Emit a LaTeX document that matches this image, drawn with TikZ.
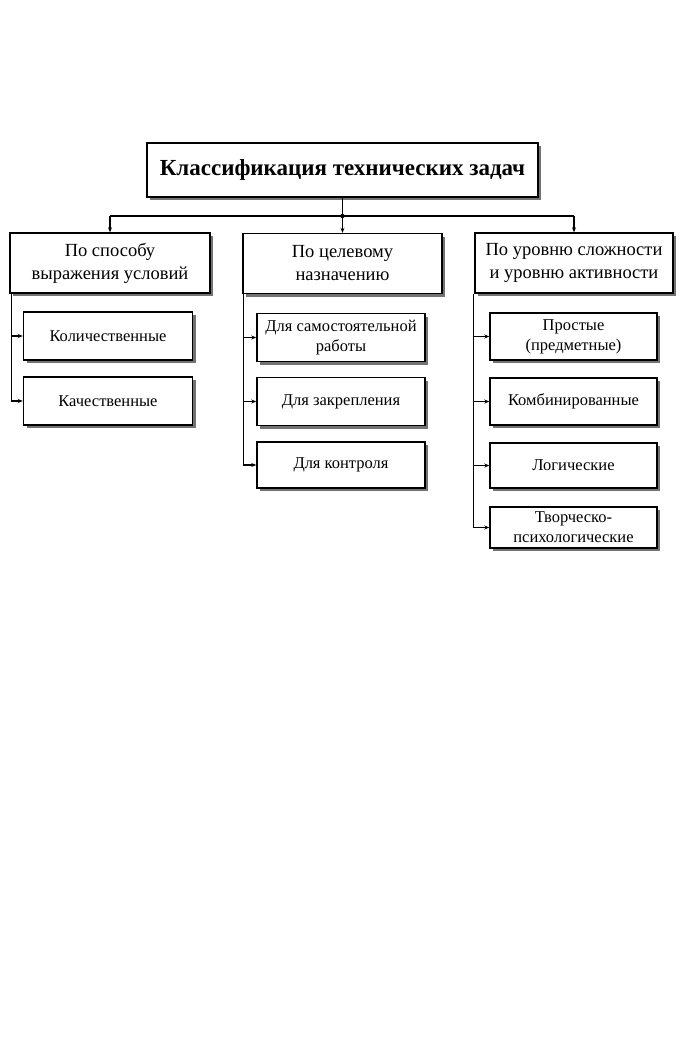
\documentclass[tikz,border=0pt]{standalone}
\usepackage{fontspec}
\setmainfont{Liberation Serif}
\usetikzlibrary{arrows.meta,shadows}
\begin{document}
\begin{tikzpicture}[x=1pt,y=-1pt,
  box/.style={draw=black,line width=1.4pt,fill=white,rectangle,inner sep=1pt,align=center,
    drop shadow={shadow xshift=3pt,shadow yshift=-3pt,fill=black!55,opacity=1}},
  topbox/.style={box,minimum width=391pt,minimum height=54pt,font=\fontsize{23}{26}\selectfont\bfseries},
  lvl/.style={box,minimum width=200pt,minimum height=60pt,font=\fontsize{18.5}{23}\selectfont},
  sub/.style={box,minimum width=169pt,minimum height=48pt,font=\fontsize{16.5}{20}\selectfont},
  ln/.style={line width=1.1pt},
  arr/.style={ln,-{Stealth[length=5pt,width=4pt]}}]
\useasboundingbox (0,0) rectangle (685,1042);
\node[topbox] (top) at (342.5,170) {Классификация технических задач};
\node[lvl] (la) at (110,263) {По способу\\выражения условий};
\node[lvl,minimum width=199pt] (lb) at (342.5,263.5) {По целевому\\назначению};
\node[lvl,minimum width=198pt] (lc) at (574,263) {По уровню сложности\\и уровню активности};
\node[sub] (a1) at (108,336) {Количественные};
\node[sub] (a2) at (108,401) {Качественные};
\node[sub,minimum width=168pt] (b1) at (341,337.5) {Для самостоятельной\\работы};
\node[sub,minimum width=168pt] (b2) at (341,401.5) {Для закрепления};
\node[sub,minimum width=168pt,minimum height=46pt] (b3) at (341,465) {Для контроля};
\node[sub,minimum width=167pt,minimum height=47pt] (c1) at (573.5,336.5) {Простые\\(предметные)};
\node[sub,minimum width=167pt,minimum height=47pt] (c2) at (573.5,401.5) {Комбинированные};
\node[sub,minimum width=167pt,minimum height=45pt] (c3) at (573.5,465.5) {Логические};
\node[sub,minimum width=167pt,minimum height=41pt] (c4) at (573.5,527.5) {Творческо-\\психологические};
% bus
\coordinate (bus) at (342.5,216);
\draw[ln] (top.south) -- (bus);
\fill (bus) circle (2.2pt);
\draw[ln] (la.north |- bus) -- (lc.north |- bus);
\draw[arr] (la.north |- bus) -- (la.north);
\draw[arr] (bus) -- (lb.north);
\draw[arr] (lc.north |- bus) -- (lc.north);
% left branch
\coordinate (ta) at ([xshift=2pt]la.south west);
\draw[ln] (ta) -- (ta |- a2.west);
\draw[arr] (ta |- a1.west) -- (a1.west);
\draw[arr] (ta |- a2.west) -- (a2.west);
% middle branch
\coordinate (tb) at ([xshift=1pt]lb.south west);
\draw[ln] (tb) -- (tb |- b3.west);
\draw[arr] (tb |- b1.west) -- (b1.west);
\draw[arr] (tb |- b2.west) -- (b2.west);
\draw[arr] (tb |- b3.west) -- (b3.west);
% right branch
\coordinate (tc) at ([xshift=-1pt]lc.south west);
\draw[ln] (tc) -- (tc |- c4.west);
\draw[arr] (tc |- c1.west) -- (c1.west);
\draw[arr] (tc |- c2.west) -- (c2.west);
\draw[arr] (tc |- c3.west) -- (c3.west);
\draw[arr] (tc |- c4.west) -- (c4.west);
\end{tikzpicture}
\end{document}
